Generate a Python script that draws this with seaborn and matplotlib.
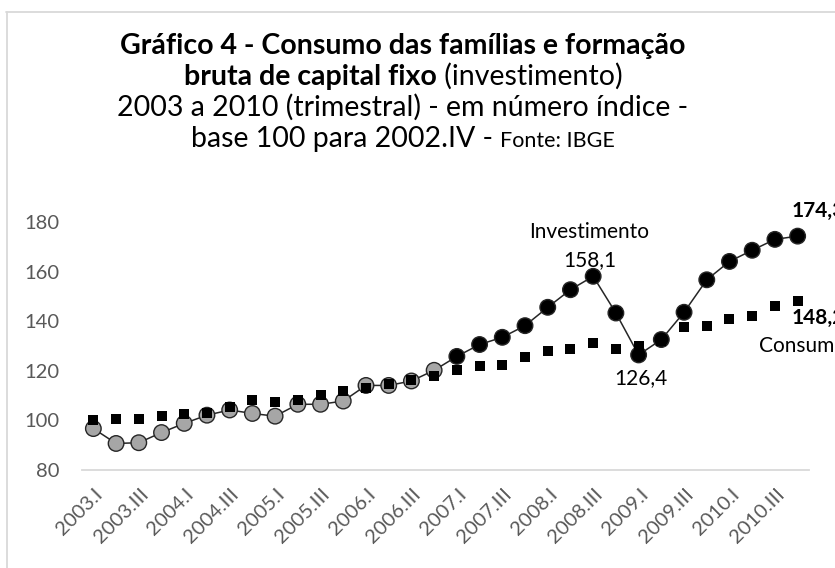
import numpy as np
import pandas as pd
import seaborn as sns
import matplotlib.pyplot as plt
from matplotlib.lines import Line2D
from matplotlib.transforms import ScaledTranslation

trimestres = [
    "2003.I", "2003.II", "2003.III", "2003.IV",
    "2004.I", "2004.II", "2004.III", "2004.IV",
    "2005.I", "2005.II", "2005.III", "2005.IV",
    "2006.I", "2006.II", "2006.III", "2006.IV",
    "2007.I", "2007.II", "2007.III", "2007.IV",
    "2008.I", "2008.II", "2008.III", "2008.IV",
    "2009.I", "2009.II", "2009.III", "2009.IV",
    "2010.I", "2010.II", "2010.III", "2010.IV",
]
rotulos_x = trimestres[::2]

# indices base 100 = 2002.IV
consumo = [100.1, 100.5, 100.5, 101.7, 102.4, 103.0, 105.4, 108.4,
           107.4, 108.4, 110.1, 111.8, 112.9, 114.5, 116.1, 117.8,
           120.2, 121.8, 122.2, 125.5, 127.8, 128.9, 131.3, 128.6,
           130.2, 132.0, 137.6, 138.2, 140.9, 142.2, 146.0, 148.2]
investimento = [96.7, 90.7, 91.0, 95.1, 98.8, 102.1, 104.2, 102.8,
                101.7, 106.5, 106.5, 107.8, 114.1, 114.1, 115.9, 120.2,
                125.8, 130.6, 133.5, 138.2, 145.6, 152.7, 158.1, 143.3,
                126.4, 132.6, 143.6, 156.7, 164.1, 168.6, 173.0, 174.3]

CINZA = "#595959"
W, H = 835, 568

sns.set_theme(style="white")
plt.rcParams['font.family'] = ['Lato', 'DejaVu Sans']

df = pd.DataFrame({
    "pos": np.arange(len(trimestres)),
    "trimestre": trimestres,
    "consumo": consumo,
    "investimento": investimento,
})
df["periodo"] = np.where(df["trimestre"].str[:4].astype(int) < 2007, "antes", "depois")

fig = plt.figure(figsize=(W / 100, H / 100), dpi=100)
ax = fig.add_axes([82 / W, 1 - 470 / H, 727 / W, 248 / H])

sns.lineplot(data=df, x="pos", y="investimento", color="#262626", lw=1.1, ax=ax, zorder=2)
sns.scatterplot(data=df, x="pos", y="investimento", hue="periodo",
                palette={"antes": "#a6a6a6", "depois": "black"},
                s=125, edgecolor="#262626", linewidth=1, legend=False, ax=ax, zorder=3)
sns.scatterplot(data=df, x="pos", y="consumo", marker="s", color="black",
                s=46, linewidth=0, ax=ax, zorder=4)

ax.set_xlim(-0.5, 31.5)
ax.set_ylim(80, 180)
ax.set_yticks(range(80, 181, 20))
ax.set_xticks(range(0, 32, 2))
ax.set_xticklabels(rotulos_x, rotation=45, ha="right", va="top", rotation_mode="anchor")
ax.set_xlabel("")
ax.set_ylabel("")
for s in ["top", "right", "left"]:
    ax.spines[s].set_visible(False)
ax.spines["bottom"].set_color("#d9d9d9")
ax.spines["bottom"].set_linewidth(1.3)
ax.tick_params(axis="y", length=0, pad=16, labelsize=14.5, labelcolor=CINZA)
ax.tick_params(axis="x", length=0, pad=11, labelsize=14.5, labelcolor=CINZA)
for lab in ax.get_xticklabels():
    lab.set_transform(lab.get_transform() + ScaledTranslation(0.5 / 72, 0, fig.dpi_scale_trans))

# rotulos das series
txt = dict(fontsize=15, color="black", clip_on=False, va="center")
ax.text(21.83, 176.0, "Investimento", ha="center", **txt)
ax.text(21.86, 164.7, "158,1", ha="center", **txt)
ax.text(24.1, 116.9, "126,4", ha="center", **txt)
ax.text(30.72, 184.4, "174,3", ha="left", fontweight="bold", **txt)
ax.text(30.72, 141.4, "148,2", ha="left", fontweight="bold", **txt)
ax.text(29.28, 130.2, "Consumo", ha="left", **txt)

# moldura (so topo e esquerda aparecem)
fig.add_artist(Line2D([6.5 / W, 6.5 / W], [0, 1 - 12 / H], color="#d9d9d9", lw=1.3))
fig.add_artist(Line2D([6 / W, 1], [1 - 12 / H, 1 - 12 / H], color="#d9d9d9", lw=1.3))

# titulo em 4 linhas com partes em negrito
linhas = [
    ([("Gráfico 4 - Consumo das famílias e formação", "bold", 20.5)], 54),
    ([("bruta de capital fixo", "bold", 20.5), (" (investimento)", "normal", 20.5)], 85),
    ([("2003 a 2010 (trimestral) - em número índice -", "normal", 20.5)], 116),
    ([("base 100 para 2002.IV - ", "normal", 20.5), ("Fonte: IBGE", "normal", 15.5)], 147),
]
fig.canvas.draw()
renderer = fig.canvas.get_renderer()
for partes, ybase in linhas:
    objs = [fig.text(0, 1 - ybase / H, t, fontsize=fs, fontweight=fw, va="baseline", ha="left", color="black")
            for t, fw, fs in partes]
    larg = [o.get_window_extent(renderer).width for o in objs]
    x = 403 - sum(larg) / 2
    for o, w in zip(objs, larg):
        o.set_x(x / W)
        x += w

fig.savefig("out.png", dpi=100)
